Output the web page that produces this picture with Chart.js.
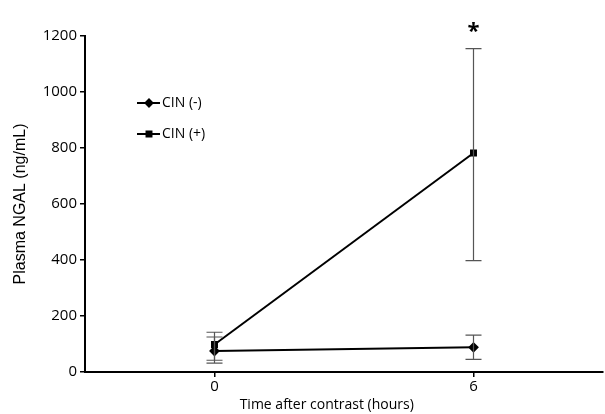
<!DOCTYPE html>
<html>
<head>
<meta charset="utf-8">
<script src="https://cdn.jsdelivr.net/npm/chart.js@4.4.1/dist/chart.umd.min.js"></script>
<style>
  html, body { margin: 0; padding: 0; background: #fff; }
  #wrap { width: 605px; height: 414px; }
</style>
</head>
<body>
<div id="wrap"><canvas id="ngalChart" width="605" height="414"></canvas></div>
<script>
// ---- data ----
const hours = [0, 6];
const xTicks = [0, 6];
const yTicks = [0, 200, 400, 600, 800, 1000, 1200];

const cinNeg = [75, 88];
const cinNegLow = [32, 45];
const cinNegHigh = [125, 132];

const cinPos = [98, 782];
const cinPosLow = [42, 398];
const cinPosHigh = [142, 1155];

const FONT = "'Open Sans', 'DejaVu Sans', sans-serif";
const TITLE_FONT = "'Liberation Sans', Arial, sans-serif";

function pts(ys) {
  return hours.map((h, i) => ({ x: h, y: ys[i] }));
}

// error bars, legend, asterisk and x title (drawn a bit left of centre, like the original)
const extras = {
  id: "extras",
  afterDatasetsDraw(chart) {
    const { ctx, scales } = chart;
    const xs = scales.x, ys = scales.y;
    const bars = [
      [cinNegLow, cinNegHigh],
      [cinPosLow, cinPosHigh],
    ];
    ctx.save();
    ctx.strokeStyle = "#555";
    ctx.lineWidth = 1.2;
    bars.forEach(([lo, hi]) => {
      hours.forEach((h, i) => {
        const px = xs.getPixelForValue(h);
        const y1 = ys.getPixelForValue(lo[i]);
        const y2 = ys.getPixelForValue(hi[i]);
        ctx.beginPath();
        ctx.moveTo(px, y1); ctx.lineTo(px, y2);
        ctx.moveTo(px - 8, y1); ctx.lineTo(px + 8, y1);
        ctx.moveTo(px - 8, y2); ctx.lineTo(px + 8, y2);
        ctx.stroke();
      });
    });

    ctx.fillStyle = "#000";
    ctx.font = "bold 22px " + FONT;
    ctx.textAlign = "center";
    ctx.textBaseline = "middle";
    ctx.fillText("*", xs.getPixelForValue(6), 32);

    ctx.font = "14px " + FONT;
    ctx.fillText("Time after contrast (hours)", xs.getPixelForValue(2.6), 405);

    // legend inside plot
    const items = [
      { text: "CIN (-)", style: "rectRot", y: 103 },
      { text: "CIN (+)", style: "rect", y: 134 },
    ];
    ctx.textAlign = "left";
    items.forEach(it => {
      ctx.strokeStyle = "#000";
      ctx.lineWidth = 2;
      ctx.beginPath();
      ctx.moveTo(137, it.y); ctx.lineTo(160, it.y);
      ctx.stroke();
      Chart.helpers.drawPoint(ctx, { pointStyle: it.style, radius: 3.5, borderWidth: 1 }, 149, it.y);
      ctx.fillStyle = "#000";
      ctx.fill();
      ctx.fillText(it.text, 162, it.y);
    });
    ctx.restore();
  }
};

new Chart(document.getElementById("ngalChart"), {
  type: "scatter",
  data: {
    datasets: [
      {
        label: "CIN (-)",
        data: pts(cinNeg),
        showLine: true,
        borderColor: "#000",
        backgroundColor: "#000",
        borderWidth: 2,
        pointStyle: "rectRot",
        pointRadius: 4,
      },
      {
        label: "CIN (+)",
        data: pts(cinPos),
        showLine: true,
        borderColor: "#000",
        backgroundColor: "#000",
        borderWidth: 2,
        pointStyle: "rect",
        pointRadius: 3.5,
      },
    ],
  },
  options: {
    responsive: false,
    animation: false,
    layout: { autoPadding: false, padding: { top: 36, right: 2, left: 11, bottom: 0 } },
    plugins: { legend: { display: false }, tooltip: { enabled: false } },
    scales: {
      x: {
        type: "linear",
        min: -3,
        max: 9,
        afterBuildTicks: (s) => { s.ticks = xTicks.map(v => ({ value: v })); },
        afterFit: (s) => { s.height = 42; s.paddingLeft = 0; s.paddingRight = 0; },
        grid: { drawOnChartArea: false, drawTicks: true, tickLength: 5, color: "#000", lineWidth: 1.5 },
        border: { color: "#000", width: 2 },
        ticks: { color: "#000", font: { family: FONT, size: 15 }, padding: 1, callback: (v) => String(v) },
      },
      y: {
        min: 0,
        max: 1200,
        afterBuildTicks: (s) => { s.ticks = yTicks.map(v => ({ value: v })); },
        afterFit: (s) => { s.width = 74; s.paddingTop = 0; s.paddingBottom = 0; },
        grid: { drawOnChartArea: false, drawTicks: true, tickLength: 5, color: "#000", lineWidth: 1.5 },
        border: { color: "#000", width: 2 },
        ticks: { color: "#000", font: { family: FONT, size: 15 }, padding: 3, callback: (v) => String(v) },
        title: {
          display: true,
          text: "Plasma NGAL (ng/mL)",
          color: "#000",
          font: { family: TITLE_FONT, size: 16 },
          padding: { top: 0, bottom: 4 },
        },
      },
    },
  },
  plugins: [extras],
});
</script>
</body>
</html>
